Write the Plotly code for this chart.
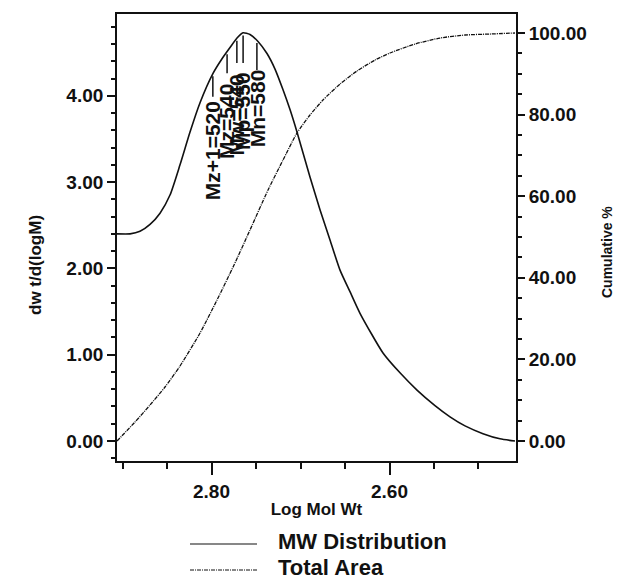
import numpy as np
import plotly.graph_objects as go

# Molecular-weight distribution (solid, left axis)
mw_x = [-0.124, 0.169, 0.393, 0.618, 0.843, 1.067, 1.292, 1.517, 1.742,
        2.034, 2.236, 2.416, 2.573, 2.708, 2.865, 3.045, 3.247, 3.427,
        3.607, 3.764, 3.921, 4.213, 4.438, 4.663, 4.888, 5.112, 5.337,
        5.854, 6.236, 6.618, 7.022, 7.360, 7.697, 8.101, 8.483, 8.820]
mw_dist = [2.40, 2.40, 2.43, 2.51, 2.64, 2.85, 3.20, 3.58, 3.92,
           4.26, 4.43, 4.56, 4.67, 4.73, 4.71, 4.63, 4.49, 4.31,
           4.07, 3.84, 3.58, 3.06, 2.68, 2.33, 1.98, 1.73, 1.48,
           1.02, 0.79, 0.59, 0.41, 0.28, 0.175, 0.085, 0.025, 0.00]

# Cumulative area (dashed, right axis)
area_x = [-0.124, 0.281, 0.618, 0.955, 1.292, 1.742, 2.124, 2.506, 2.865,
          3.270, 3.607, 3.921, 4.213, 4.506, 4.888, 5.270, 5.674, 6.011,
          6.573, 7.135, 7.697, 8.258, 8.820]
total_area = [0.0, 4.66, 8.82, 13.24, 18.38, 26.47, 34.56, 43.14, 51.72,
              61.52, 68.87, 75.49, 79.90, 83.58, 87.50, 90.69, 93.38, 95.10,
              97.30, 98.77, 99.51, 99.75, 100.0]

x_tickvals = [2, 6]
x_ticktext = ["2.80", "2.60"]
x_minor = [0, 1, 3, 4, 5, 7, 8]

# Molecular-weight average markers
avg_labels = ["Mz+1=520", "Mz=540", "Mw=540", "Mp=550", "Mn=580"]
avg_pos = [2.03, 2.35, 2.57, 2.71, 3.02]
avg_label_base = [2.77, 3.24, 3.29, 3.35, 3.38]
avg_line_end = [3.99, 4.26, 4.38, 4.38, 4.30]

FONT = "Liberation Sans"
BLACK = "#111111"
DASH = "4px,1px,1px,1px"
X_RANGE = [-0.124, 8.843]
Y_RANGE = [-0.232, 4.948]
Y2_RANGE = [-4.90, 104.66]

fig = go.Figure()
fig.add_trace(go.Scatter(
    x=mw_x, y=mw_dist, mode="lines", name="MW Distribution",
    line=dict(color=BLACK, width=1.6, shape="spline", smoothing=0.6),
    showlegend=False))
fig.add_trace(go.Scatter(
    x=area_x, y=total_area, mode="lines", name="Total Area", yaxis="y2",
    line=dict(color=BLACK, width=1.3, shape="spline", smoothing=0.6,
              dash=DASH),
    showlegend=False))
# empty traces that anchor the minor-tick axes
fig.add_trace(go.Scatter(x=[None], y=[None], xaxis="x2", yaxis="y3",
                         showlegend=False, hoverinfo="skip"))
fig.add_trace(go.Scatter(x=[None], y=[None], xaxis="x2", yaxis="y4",
                         showlegend=False, hoverinfo="skip"))

# marker lines from the curve down to each label
for pos, end in zip(avg_pos, avg_line_end):
    top = float(np.interp(pos, mw_x, mw_dist))
    fig.add_shape(type="line", xref="x", yref="y", x0=pos, x1=pos,
                  y0=end, y1=top - 0.03, line=dict(color=BLACK, width=1.5))
for pos, base, lab in zip(avg_pos, avg_label_base, avg_labels):
    fig.add_annotation(x=pos, y=base, xref="x", yref="y", text=lab,
                       textangle=-90, showarrow=False, xanchor="center",
                       yanchor="bottom",
                       font=dict(family=FONT, size=21, color=BLACK,
                                 weight="bold"))

# legend drawn below the axis title
legend_items = [("MW Distribution", "solid", -0.1857, -0.181),
                ("Total Area", DASH, -0.2438, -0.239)]
for name, dash, ly, ty in legend_items:
    fig.add_shape(type="line", xref="paper", yref="paper",
                  x0=(190 - 117) / 399, x1=(257 - 117) / 399, y0=ly, y1=ly,
                  line=dict(color=BLACK, width=1.2, dash=dash))
    fig.add_annotation(x=(276 - 117) / 399, y=ty, xref="paper", yref="paper",
                       text=name, showarrow=False, xanchor="left",
                       yanchor="middle",
                       font=dict(family=FONT, size=22, color=BLACK,
                                 weight="bold"))

# y-axis titles
fig.add_annotation(x=(35 - 117) / 399, y=(461 - 265) / 447, xref="paper",
                   yref="paper", text="dw t/d(logM)", textangle=-90,
                   showarrow=False, xanchor="center", yanchor="middle",
                   font=dict(family=FONT, size=17, color=BLACK, weight="bold"))
fig.add_annotation(x=(607 - 117) / 399, y=(461 - 252) / 447, xref="paper",
                   yref="paper", text="Cumulative %", textangle=-90,
                   showarrow=False, xanchor="center", yanchor="middle",
                   font=dict(family=FONT, size=14, color=BLACK, weight="bold"))

tickfont = dict(family=FONT, size=19, color=BLACK, weight="bold")
titlefont = dict(family=FONT, size=17, color=BLACK, weight="bold")

left_minor = [round(v, 1) for v in np.arange(-0.2, 4.95, 0.2)
              if abs(v - round(v)) > 1e-6]
right_minor = [v for v in range(-5, 105, 5) if v % 20 != 0]

minor_axis = dict(tickmode="array", ticks="outside", ticklen=5, tickwidth=1.5,
                  tickcolor=BLACK, showticklabels=False, showline=False,
                  showgrid=False, zeroline=False, fixedrange=True)

fig.update_layout(
    width=617, height=582,
    margin=dict(l=117, r=101, t=14, b=121),
    paper_bgcolor="white", plot_bgcolor="white",
    xaxis=dict(
        range=X_RANGE, tickmode="array", tickvals=x_tickvals,
        ticktext=x_ticktext, ticks="outside", ticklen=12, tickwidth=1.5,
        tickcolor=BLACK, showline=True, linecolor=BLACK, linewidth=1.8,
        mirror=True, showgrid=False, zeroline=False, tickfont=tickfont,
        title=dict(text="Log Mol Wt", font=titlefont, standoff=2)),
    xaxis2=dict(minor_axis, range=X_RANGE, tickvals=x_minor, ticklen=7,
                overlaying="x", side="bottom", anchor="y"),
    yaxis=dict(
        range=Y_RANGE, tickmode="linear", tick0=0, dtick=1,
        tickformat=".2f", ticks="outside", ticklen=8, tickwidth=1.5,
        tickcolor=BLACK, showline=True, linecolor=BLACK, linewidth=1.8,
        showgrid=False, zeroline=False, tickfont=tickfont),
    yaxis2=dict(
        range=Y2_RANGE, tickmode="linear", tick0=0, dtick=20,
        tickformat=".2f", overlaying="y", side="right", ticks="outside",
        ticklen=7, tickwidth=1.5, tickcolor=BLACK, showline=True,
        linecolor=BLACK, linewidth=1.8, showgrid=False, zeroline=False,
        tickfont=tickfont),
    yaxis3=dict(minor_axis, range=Y_RANGE, tickvals=left_minor,
                overlaying="y", side="left", anchor="x"),
    yaxis4=dict(minor_axis, range=Y2_RANGE, tickvals=right_minor,
                overlaying="y", side="right", anchor="x"),
)

fig.write_html("out.html")
